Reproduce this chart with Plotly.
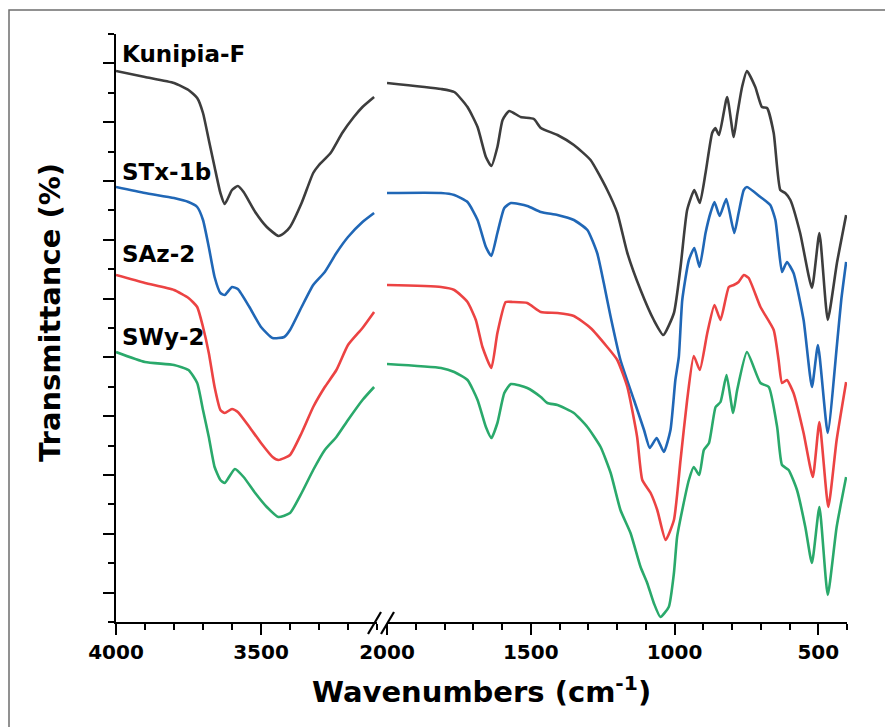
import plotly.graph_objects as go

W, H = 893, 727

# ---------------- data (offset transmittance, arbitrary units) ----------------
kun_wn_hi = [4000, 3900, 3800, 3750, 3720, 3700, 3680, 3660, 3640, 3625, 3600, 3580, 3560,
             3520, 3480, 3440, 3420, 3400, 3360, 3320, 3300, 3260, 3220, 3180, 3150, 3110]
kun_t_hi = [551, 545, 539, 532, 524, 509, 482, 455, 429, 418, 432, 436, 430,
            410, 395, 386, 389, 395, 419, 449, 457, 469, 489, 505, 515, 525]
kun_wn_lo = [2000, 1812, 1766, 1720, 1685, 1656, 1637, 1616, 1598, 1575, 1535, 1489, 1465,
             1407, 1350, 1292, 1234, 1199, 1164, 1118, 1072, 1039, 1002, 979, 956, 931,
             912, 892, 869, 858, 845, 817, 794, 782, 765, 748, 719, 696, 678, 655, 632,
             615, 597, 563, 522, 496, 467, 435, 403]
kun_t_lo = [539, 533, 530, 515, 495, 465, 456, 475, 502, 511, 505, 503, 494,
            487, 477, 462, 432, 409, 369, 332, 302, 287, 309, 355, 412, 432,
            419, 449, 489, 494, 487, 525, 485, 507, 535, 551, 535, 515, 514, 489, 432,
            429, 422, 389, 334, 389, 302, 359, 407]

stx_wn_hi = [4000, 3900, 3800, 3750, 3720, 3700, 3680, 3660, 3640, 3625, 3600, 3580,
             3540, 3500, 3460, 3420, 3400, 3360, 3320, 3280, 3240, 3200, 3150, 3110]
stx_t_hi = [435, 429, 424, 420, 415, 402, 375, 345, 329, 327, 335, 333,
            315, 295, 284, 285, 292, 315, 337, 350, 369, 385, 400, 409]
stx_wn_lo = [2000, 1812, 1766, 1720, 1685, 1656, 1637, 1616, 1592, 1569, 1512, 1465, 1407,
             1350, 1303, 1269, 1246, 1222, 1188, 1141, 1106, 1086, 1062, 1037, 1014, 997,
             985, 973, 950, 931, 913, 892, 875, 861, 843, 820, 792, 777, 759, 748, 701,
             667, 649, 638, 626, 609, 586, 551, 522, 501, 467, 435, 420, 403]
stx_t_lo = [429, 429, 427, 420, 402, 375, 366, 389, 414, 419, 416, 410, 407,
            402, 392, 369, 339, 305, 262, 222, 192, 174, 184, 170, 192, 242,
            265, 322, 362, 374, 355, 389, 409, 420, 406, 423, 389, 409, 432, 435, 425,
            417, 402, 375, 350, 360, 349, 302, 235, 277, 189, 277, 322, 360]

saz_wn_hi = [4000, 3900, 3800, 3750, 3720, 3700, 3680, 3660, 3640, 3625, 3600, 3580,
             3540, 3500, 3460, 3440, 3400, 3360, 3320, 3280, 3240, 3200, 3150, 3110]
saz_t_hi = [347, 339, 332, 324, 315, 295, 269, 235, 212, 209, 213, 210,
            195, 179, 165, 162, 167, 189, 215, 235, 252, 277, 294, 310]
saz_wn_lo = [2000, 1812, 1766, 1720, 1691, 1668, 1637, 1616, 1587, 1563, 1512, 1465, 1407,
             1350, 1292, 1234, 1199, 1164, 1130, 1112, 1083, 1060, 1031, 1002, 979, 956,
             933, 912, 886, 861, 840, 811, 794, 777, 759, 742, 701, 655, 638, 626, 609,
             586, 551, 519, 496, 465, 436, 403]
saz_t_lo = [337, 335, 332, 320, 302, 275, 254, 289, 320, 320, 319, 310, 309,
            306, 294, 275, 262, 235, 185, 142, 129, 112, 82, 102, 162, 222,
            266, 252, 289, 317, 302, 335, 337, 340, 347, 344, 315, 292, 262, 239, 242,
            229, 189, 145, 200, 115, 182, 240]

swy_wn_hi = [4000, 3900, 3800, 3750, 3720, 3700, 3680, 3660, 3640, 3625, 3590, 3560,
             3520, 3480, 3440, 3400, 3360, 3320, 3280, 3240, 3200, 3150, 3110]
swy_t_hi = [270, 260, 257, 252, 239, 212, 185, 155, 142, 139, 153, 145,
            129, 115, 105, 109, 129, 152, 172, 185, 202, 222, 235]
swy_wn_lo = [2000, 1812, 1766, 1720, 1685, 1656, 1637, 1616, 1592, 1569, 1512, 1465, 1442,
             1407, 1350, 1303, 1257, 1222, 1188, 1153, 1118, 1095, 1072, 1049, 1020, 1002,
             991, 973, 950, 933, 914, 898, 880, 857, 840, 819, 796, 782, 748, 701, 672,
             643, 626, 603, 574, 545, 522, 496, 467, 436, 403]
swy_t_lo = [258, 254, 250, 242, 222, 195, 184, 199, 229, 238, 234, 225, 219,
            217, 209, 195, 175, 149, 112, 89, 55, 39, 19, 5, 15, 49,
            85, 112, 142, 155, 147, 172, 179, 215, 220, 247, 209, 232, 270, 239, 235,
            195, 157, 152, 132, 95, 59, 115, 27, 95, 145]

sample_names = ["Kunipia-F", "STx-1b", "SAz-2", "SWy-2"]
sample_colors = ["#3d3d3d", "#2067b6", "#ec4343", "#2aa96b"]
label_y = [54, 172, 254, 337]          # label vertical positions (px from top)

x_ticks_hi = [4000, 3500]
x_ticks_lo = [2000, 1500, 1000, 500]

series = [
    (kun_wn_hi, kun_t_hi, kun_wn_lo, kun_t_lo),
    (stx_wn_hi, stx_t_hi, stx_wn_lo, stx_t_lo),
    (saz_wn_hi, saz_t_hi, saz_wn_lo, saz_t_lo),
    (swy_wn_hi, swy_t_hi, swy_wn_lo, swy_t_lo),
]

# ---------------- geometry helpers (page pixels -> paper; page body has 8px margin) ----
OFF = 8

def px(x):
    return (x - OFF) / W

def py(y):
    return 1 - (y - OFF) / H

FONT = "DejaVu Sans"

fig = go.Figure()
for (wh, th, wl, tl), name, col in zip(series, sample_names, sample_colors):
    fig.add_trace(go.Scatter(x=wh, y=th, mode="lines", name=name, xaxis="x", yaxis="y",
                             line=dict(color=col, width=2.6, shape="spline", smoothing=0.5),
                             showlegend=False))
    fig.add_trace(go.Scatter(x=wl, y=tl, mode="lines", name=name, xaxis="x2", yaxis="y",
                             line=dict(color=col, width=2.6, shape="spline", smoothing=0.5),
                             showlegend=False))

axis_common = dict(showline=True, linecolor="black", linewidth=2, ticks="outside",
                   ticklen=11, tickwidth=2, tickcolor="black", showgrid=False, zeroline=False,
                   automargin=False,
                   tickfont=dict(family=FONT, size=20, color="black", weight="bold"))

fig.update_layout(
    width=W, height=H, autosize=False,
    margin=dict(l=0, r=0, t=0, b=0, pad=0, autoexpand=False),
    paper_bgcolor="white", plot_bgcolor="white",
    showlegend=False,
    xaxis=dict(domain=[px(116), px(377)], range=[4000, 3100], anchor="y",
               tickmode="array", tickvals=x_ticks_hi, ticktext=[str(v) for v in x_ticks_hi],
               minor=dict(dtick=100, tick0=0, ticks="outside", ticklen=6, tickwidth=2,
                          tickcolor="black", showgrid=False),
               **axis_common),
    xaxis2=dict(domain=[px(387), px(847)], range=[2000, 400], anchor="y",
                tickmode="array", tickvals=x_ticks_lo, ticktext=[str(v) for v in x_ticks_lo],
                minor=dict(dtick=100, tick0=0, ticks="outside", ticklen=6, tickwidth=2,
                           tickcolor="black", showgrid=False),
                **axis_common),
    yaxis=dict(domain=[py(622), py(34)], range=[0, 588], anchor="x",
               tick0=29.4, dtick=58.8, showticklabels=False,
               minor=dict(dtick=29.4, tick0=0, ticks="outside", ticklen=6, tickwidth=2,
                          tickcolor="black", showgrid=False),
               **axis_common),
)

# axis titles
fig.add_annotation(x=px(481), y=py(690), xref="paper", yref="paper", showarrow=False,
                   text="Wavenumbers (cm<sup>-1</sup>)",
                   font=dict(family=FONT, size=29, color="black", weight="bold"),
                   xanchor="center", yanchor="middle")
fig.add_annotation(x=px(50), y=py(313), xref="paper", yref="paper", showarrow=False,
                   text="Transmittance (%)", textangle=-90,
                   font=dict(family=FONT, size=29, color="black", weight="bold"),
                   xanchor="center", yanchor="middle")

# sample labels
for name, ly in zip(sample_names, label_y):
    fig.add_annotation(x=px(120), y=py(ly), xref="paper", yref="paper", showarrow=False,
                       text=name, font=dict(family=FONT, size=23, color="black", weight="bold"),
                       xanchor="left", yanchor="middle")

# axis break marks
for x0 in (368, 381):
    fig.add_shape(type="line", xref="paper", yref="paper",
                  x0=px(x0), y0=py(634), x1=px(x0 + 13), y1=py(612),
                  line=dict(color="black", width=2.2))

# outer frame
fig.add_shape(type="rect", xref="paper", yref="paper",
              x0=px(9), y0=-0.05, x1=1.05, y1=py(10),
              line=dict(color="#6e6e6e", width=1.5))

fig.write_html("out.html")
